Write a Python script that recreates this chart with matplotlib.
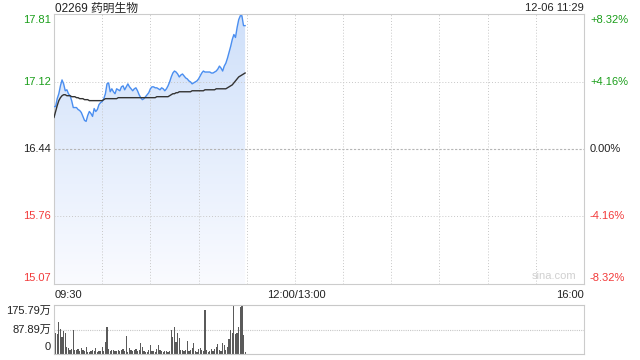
import numpy as np
import matplotlib
matplotlib.use("Agg")
import matplotlib.pyplot as plt
from matplotlib.transforms import blended_transform_factory

plt.rcParams['font.family'] = ['Liberation Sans', 'Noto Sans CJK SC', 'DejaVu Sans']

TITLE = "02269 药明生物"
STAMP = "12-06 11:29"
PREV_CLOSE = 16.44

# minute prices 09:30 - 11:29
price = [16.87, 16.87, 16.95, 17.00, 17.08, 17.14, 17.10, 17.03, 17.04, 17.00,
         16.98, 16.93, 16.86, 16.86, 16.86, 16.84, 16.83, 16.81, 16.77, 16.73,
         16.72, 16.78, 16.82, 16.80, 16.77, 16.85, 16.82, 16.84, 16.89, 16.91,
         16.92, 16.95, 17.00, 17.10, 17.11, 17.02, 17.05, 17.02, 17.00, 17.05,
         17.04, 17.03, 17.07, 17.08, 17.04, 17.07, 17.10, 17.07, 17.05, 17.03,
         17.05, 17.06, 17.03, 16.99, 16.96, 16.94, 16.95, 16.97, 16.99, 17.01,
         17.05, 17.07, 17.07, 17.06, 17.06, 17.05, 17.04, 17.06, 17.05, 17.03,
         17.05, 17.08, 17.12, 17.17, 17.21, 17.23, 17.22, 17.20, 17.17, 17.19,
         17.20, 17.18, 17.16, 17.15, 17.13, 17.12, 17.10, 17.11, 17.12, 17.13,
         17.15, 17.18, 17.21, 17.23, 17.22, 17.22, 17.22, 17.22, 17.21, 17.21,
         17.22, 17.23, 17.25, 17.28, 17.26, 17.23, 17.28, 17.31, 17.36, 17.42,
         17.48, 17.55, 17.60, 17.57, 17.67, 17.75, 17.79, 17.79, 17.69, 17.69]

avg = [16.76, 16.82, 16.88, 16.93, 16.96, 16.98, 16.99, 16.99, 16.98, 16.98,
       16.98, 16.97, 16.97, 16.97, 16.96, 16.96, 16.95, 16.95, 16.95, 16.94,
       16.94, 16.94, 16.93, 16.93, 16.93, 16.93, 16.93, 16.93, 16.93, 16.93,
       16.93, 16.94, 16.95, 16.95, 16.95, 16.95, 16.95, 16.95, 16.95, 16.95,
       16.96, 16.96, 16.96, 16.96, 16.96, 16.96, 16.96, 16.96, 16.96, 16.96,
       16.96, 16.96, 16.96, 16.96, 16.96, 16.96, 16.96, 16.96, 16.96, 16.96,
       16.96, 16.96, 16.96, 16.96, 16.97, 16.97, 16.97, 16.97, 16.97, 16.97,
       16.97, 16.97, 16.98, 16.99, 17.00, 17.00, 17.01, 17.01, 17.02, 17.02,
       17.02, 17.02, 17.02, 17.02, 17.02, 17.02, 17.03, 17.03, 17.03, 17.03,
       17.03, 17.03, 17.03, 17.03, 17.04, 17.04, 17.04, 17.04, 17.04, 17.04,
       17.04, 17.05, 17.05, 17.05, 17.05, 17.05, 17.05, 17.05, 17.06, 17.07,
       17.08, 17.09, 17.11, 17.13, 17.15, 17.17, 17.18, 17.19, 17.20, 17.21]

# minute volume, unit 万
volume = [68, 74, 72, 116, 89, 62, 84, 77, 26, 20,
          14, 17, 86, 14, 14, 17, 11, 20, 14, 12,
          26, 6, 8, 11, 14, 11, 20, 8, 12, 12,
          26, 11, 44, 96, 17, 12, 14, 14, 12, 12,
          14, 11, 14, 17, 11, 65, 8, 20, 14, 12,
          14, 17, 11, 14, 41, 26, 12, 8, 8, 14,
          32, 11, 11, 8, 17, 32, 14, 11, 6, 11,
          11, 8, 12, 86, 62, 96, 44, 74, 56, 14,
          14, 11, 14, 47, 12, 14, 20, 38, 12, 8,
          17, 20, 14, 12, 158, 14, 8, 12, 17, 11,
          17, 26, 36, 14, 11, 38, 32, 14, 26, 53,
          86, 74, 172, 71, 74, 98, 170, 175.79, 68, 8]

VOL_MAX = 175.79
y_ticks = [17.81, 17.12, 16.44, 15.76, 15.07]
pct_ticks = ["+8.32%", "+4.16%", "0.00%", "-4.16%", "-8.32%"]
tick_colors = ["#1a9e1a", "#1a9e1a", "#222222", "#f23a3a", "#f23a3a"]

BLUE = "#4a8ef0"
GRID = "#c8c8c8"

fig = plt.figure(figsize=(6.4, 3.6), dpi=100)
ax = fig.add_axes([54 / 640, 1 - 284 / 360, 530 / 640, 270 / 360])
axv = fig.add_axes([54 / 640, 1 - 354 / 360, 530 / 640, 49 / 360])

t = np.arange(len(price))
lo, hi = PREV_CLOSE * (1 - 0.0832), PREV_CLOSE * (1 + 0.0832)
ax.set_xlim(0, 330)
ax.set_ylim(lo, hi)

# gradient fill under price: darker blue at top, fading to white
fill = ax.fill_between(t, price, lo, facecolor="none", edgecolor="none")
grad = np.linspace(1, 0, 256).reshape(-1, 1)
cmap = matplotlib.colors.LinearSegmentedColormap.from_list("g", ["#fafbff", "#cfe0fa"])
im = ax.imshow(grad, cmap=cmap, aspect="auto", extent=[0, t[-1], lo, max(price)],
               origin="upper", zorder=1, vmin=0, vmax=1)
im.set_clip_path(fill.get_paths()[0], transform=ax.transData)
ax.set_xlim(0, 330)
ax.set_ylim(lo, hi)

ax.plot(t, price, color=BLUE, lw=1.0, zorder=3)
ax.plot(t, avg, color="#333333", lw=1.0, zorder=3)

for x in range(30, 330, 30):
    ax.axvline(x, color=GRID, lw=0.7, ls=(0, (1, 2)), zorder=2)
for y in y_ticks[1:4]:
    if y == PREV_CLOSE:
        ax.axhline(y, color="#b5b5b5", lw=0.8, ls=(0, (2, 1.5)), zorder=2)
    else:
        ax.axhline(y, color=GRID, lw=0.7, ls=(0, (1, 2)), zorder=2)

ax.set_xticks([])
ax.set_yticks([])
for s in ax.spines.values():
    s.set_color("#cccccc")
    s.set_linewidth(0.8)

trl = blended_transform_factory(fig.transFigure, ax.transData)
for i, (v, p, c) in enumerate(zip(y_ticks, pct_ticks, tick_colors)):
    va = "top" if i == 0 else ("bottom" if i == 4 else "center")
    yv = hi - 0.01 if i == 0 else (lo + 0.01 if i == 4 else v)
    ax.text(51 / 640, yv, f"{v:.2f}", transform=trl, ha="right", va=va, fontsize=8, color=c)
    ax.text(590 / 640, yv, p, transform=trl, ha="left", va=va, fontsize=8, color=c)

fig.text(55 / 640, 1 - 3 / 360, TITLE, ha="left", va="top", fontsize=8.5, color="#222222")
fig.text(584 / 640, 1 - 3 / 360, STAMP, ha="right", va="top", fontsize=8, color="#222222")
ax.text(0.985, 0.012, "sina.com", transform=ax.transAxes, ha="right", va="bottom",
        fontsize=8, color="#d0d0d0")

fig.text(55 / 640, 1 - 295 / 360, "09:30", ha="left", va="center", fontsize=8, color="#222222")
fig.text(296 / 640, 1 - 295 / 360, "12:00/13:00", ha="center", va="center", fontsize=8, color="#222222")
fig.text(584 / 640, 1 - 295 / 360, "16:00", ha="right", va="center", fontsize=8, color="#222222")

# volume panel
axv.bar(t, volume, width=0.75, color="#5a5a5a", zorder=2)
axv.set_xlim(0, 330)
axv.set_ylim(0, VOL_MAX)
axv.axhline(VOL_MAX / 2, color=GRID, lw=0.8, ls=(0, (1, 1)), zorder=0)
axv.set_xticks([])
axv.set_yticks([])
for k in ("left", "right"):
    axv.spines[k].set_color("#cccccc")
    axv.spines[k].set_linewidth(0.8)
for k in ("top", "bottom"):
    axv.spines[k].set_color(GRID)
    axv.spines[k].set_linewidth(0.8)
    axv.spines[k].set_linestyle((0, (1, 1)))

trv = blended_transform_factory(fig.transFigure, axv.transData)
axv.text(51 / 640, VOL_MAX - 2, "175.79万", transform=trv, ha="right", va="top", fontsize=8, color="#222222")
axv.text(51 / 640, VOL_MAX / 2, "87.89万", transform=trv, ha="right", va="center", fontsize=8, color="#222222")
axv.text(51 / 640, 6, "0", transform=trv, ha="right", va="bottom", fontsize=8, color="#222222")

fig.savefig("out.png", dpi=100)
